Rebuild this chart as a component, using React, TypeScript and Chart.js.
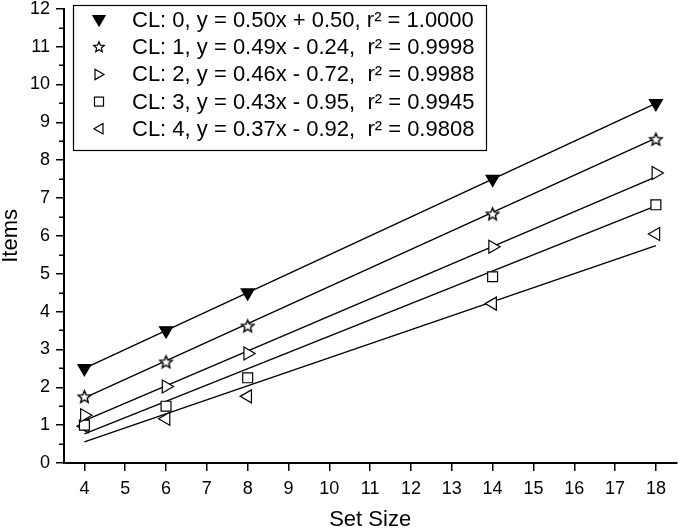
import React, { useEffect, useRef } from 'react';
import { Chart, registerables } from 'chart.js';

Chart.register(...registerables);

const FONT = '"Liberation Sans", Arial, sans-serif';

const setSizes = [4, 6, 8, 14, 18];
const cl0 = [2.5, 3.5, 4.5, 7.5, 9.5];
const cl1 = [1.75, 2.67, 3.62, 6.58, 8.55];
const cl2 = [1.26, 2.02, 2.89, 5.71, 7.66];
const cl3 = [1.0, 1.5, 2.25, 4.92, 6.82];
const cl4 = [0.97, 1.17, 1.76, 4.21, 6.05];

const fitX = [4, 18];
const fitStart = [2.5, 1.72, 1.12, 0.77, 0.56];
const fitEnd = [9.5, 8.58, 7.56, 6.79, 5.74];

const legendLabels = [
  'CL: 0, y = 0.50x + 0.50, r² = 1.0000',
  'CL: 1, y = 0.49x - 0.24,  r² = 0.9998',
  'CL: 2, y = 0.46x - 0.72,  r² = 0.9988',
  'CL: 3, y = 0.43x - 0.95,  r² = 0.9945',
  'CL: 4, y = 0.37x - 0.92,  r² = 0.9808',
];

const xTickValues = [4, 5, 6, 7, 8, 9, 10, 11, 12, 13, 14, 15, 16, 17, 18];
const yTicks = [0, 12];
const xRange = [3.5, 18.5];

function starPath(ctx: CanvasRenderingContext2D, cx: number, cy: number, r: number) {
  ctx.beginPath();
  for (let i = 0; i < 10; i++) {
    const ang = -Math.PI / 2 + (i * Math.PI) / 5;
    const rr = i % 2 === 0 ? r : r * 0.45;
    ctx.lineTo(cx + rr * Math.cos(ang), cy + rr * Math.sin(ang));
  }
  ctx.closePath();
}

function makeStar(r: number): HTMLCanvasElement {
  const size = Math.ceil(r * 2 + 4);
  const c = document.createElement('canvas');
  c.width = size;
  c.height = size;
  const ctx = c.getContext('2d')!;
  starPath(ctx, size / 2, size / 2 + 0.5, r);
  ctx.fillStyle = '#fff';
  ctx.fill();
  ctx.strokeStyle = '#000';
  ctx.lineWidth = 1.4;
  ctx.stroke();
  return c;
}

function triPath(ctx: CanvasRenderingContext2D, x: number, y: number, r: number, rotDeg: number) {
  let rad = (rotDeg * Math.PI) / 180;
  ctx.beginPath();
  for (let i = 0; i < 3; i++) {
    ctx.lineTo(x + Math.sin(rad) * r, y - Math.cos(rad) * r);
    rad += (2 * Math.PI) / 3;
  }
  ctx.closePath();
}

const extrasPlugin = {
  id: 'extras',
  afterDraw(chart: any) {
    const ctx: CanvasRenderingContext2D = chart.ctx;
    const ys = chart.scales.y;
    const left = chart.chartArea.left;
    ctx.save();
    // minor ticks on y axis
    ctx.strokeStyle = '#000';
    ctx.lineWidth = 1.5;
    for (let v = yTicks[0] + 0.5; v < yTicks[1]; v += 1) {
      const py = Math.round(ys.getPixelForValue(v)) + 0.25;
      ctx.beginPath();
      ctx.moveTo(left, py);
      ctx.lineTo(left - 5, py);
      ctx.stroke();
    }
    // legend
    const lx = 73, ly = 5, lw = 413, lh = 145;
    ctx.lineWidth = 1.2;
    ctx.strokeStyle = '#000';
    ctx.fillStyle = '#fff';
    ctx.fillRect(lx, ly, lw, lh);
    ctx.strokeRect(lx + 0.5, ly + 0.5, lw, lh);
    const mx = 99;
    ctx.font = `22px ${FONT}`;
    ctx.textBaseline = 'middle';
    ctx.textAlign = 'left';
    legendLabels.forEach((label, i) => {
      const cy = 20 + i * 27.2;
      ctx.lineWidth = 1.2;
      ctx.strokeStyle = '#000';
      if (i === 0) {
        triPath(ctx, mx, cy - 1, 7, 180);
        ctx.fillStyle = '#000';
        ctx.fill();
        ctx.stroke();
      } else if (i === 1) {
        starPath(ctx, mx, cy, 5.5);
        ctx.fillStyle = '#fff';
        ctx.fill();
        ctx.stroke();
      } else if (i === 2) {
        triPath(ctx, mx - 1, cy, 6, 90);
        ctx.fillStyle = '#fff';
        ctx.fill();
        ctx.stroke();
      } else if (i === 3) {
        ctx.fillStyle = '#fff';
        ctx.fillRect(mx - 4.5, cy - 4.5, 9, 9);
        ctx.strokeRect(mx - 4.5, cy - 4.5, 9, 9);
      } else {
        triPath(ctx, mx + 1, cy, 6, 270);
        ctx.fillStyle = '#fff';
        ctx.fill();
        ctx.stroke();
      }
      ctx.fillStyle = '#000';
      ctx.fillText(label, 132, cy + 1);
    });
    ctx.restore();
  },
};

export default function App() {
  const ref = useRef<HTMLCanvasElement | null>(null);

  useEffect(() => {
    if (!ref.current) return;
    const star = makeStar(6.5);
    const toPts = (ys: number[]) => setSizes.map((x, i) => ({ x, y: ys[i] }));
    const series = [cl0, cl1, cl2, cl3, cl4];
    const styles: any[] = [
      { pointStyle: 'triangle', rotation: 180, radius: 7.5, bg: '#000' },
      { pointStyle: star, rotation: 0, radius: 7, bg: '#fff' },
      { pointStyle: 'triangle', rotation: 90, radius: 7.5, bg: '#fff' },
      { pointStyle: 'rect', rotation: 0, radius: 7, bg: '#fff' },
      { pointStyle: 'triangle', rotation: 270, radius: 7.5, bg: '#fff' },
    ];
    const scatterSets = series.map((s, i) => ({
      type: 'scatter' as const,
      label: legendLabels[i],
      data: toPts(s),
      showLine: false,
      pointStyle: styles[i].pointStyle,
      rotation: styles[i].rotation,
      pointRadius: styles[i].radius,
      pointBackgroundColor: styles[i].bg,
      pointBorderColor: '#000',
      pointBorderWidth: 1.2,
    }));
    const fitSets = series.map((_, i) => ({
      type: 'line' as const,
      label: 'fit' + i,
      data: [
        { x: fitX[0], y: fitStart[i] },
        { x: fitX[1], y: fitEnd[i] },
      ],
      borderColor: '#000',
      borderWidth: 1.4,
      pointRadius: 0,
      fill: false,
    }));

    const chart = new Chart(ref.current, {
      type: 'scatter',
      data: { datasets: [...scatterSets, ...fitSets] as any },
      options: {
        animation: false,
        responsive: false,
        layout: { padding: { top: 7, left: 0, right: 0, bottom: 0 } },
        plugins: { legend: { display: false }, tooltip: { enabled: false } },
        scales: {
          x: {
            type: 'linear',
            min: xRange[0],
            max: xRange[1],
            afterBuildTicks: (s: any) => {
              s.ticks = xTickValues.map((v) => ({ value: v }));
            },
            ticks: {
              color: '#000',
              font: { family: FONT, size: 18 },
              padding: 7,
              maxRotation: 0,
              autoSkip: false,
            },
            grid: { drawOnChartArea: false, tickLength: 8, color: '#000', lineWidth: 1.5 },
            border: { color: '#000', width: 2 },
            title: {
              display: true,
              text: 'Set Size',
              color: '#000',
              font: { family: FONT, size: 22, lineHeight: 1 },
              padding: { top: 0, bottom: 0 },
            },
            afterFit: (s: any) => {
              s.height = 68;
              s.paddingLeft = 0;
              s.paddingRight = 0;
            },
          },
          y: {
            type: 'linear',
            min: yTicks[0],
            max: yTicks[1],
            ticks: {
              stepSize: 1,
              color: '#000',
              font: { family: FONT, size: 18 },
              padding: 6,
            },
            grid: { drawOnChartArea: false, tickLength: 8, color: '#000', lineWidth: 1.5 },
            border: { color: '#000', width: 2 },
            title: {
              display: true,
              text: 'Items',
              color: '#000',
              font: { family: FONT, size: 22, lineHeight: 1 },
              padding: { top: 0, bottom: 0 },
            },
            afterFit: (s: any) => {
              s.width = 64;
              s.paddingTop = 0;
              s.paddingBottom = 0;
            },
          },
        },
      },
      plugins: [extrasPlugin],
    });
    return () => chart.destroy();
  }, []);

  return (
    <div style={{ position: 'fixed', left: 0, top: 0, width: 685, height: 531, background: '#fff' }}>
      <canvas ref={ref} width={685} height={531} style={{ display: 'block' }} />
    </div>
  );
}
